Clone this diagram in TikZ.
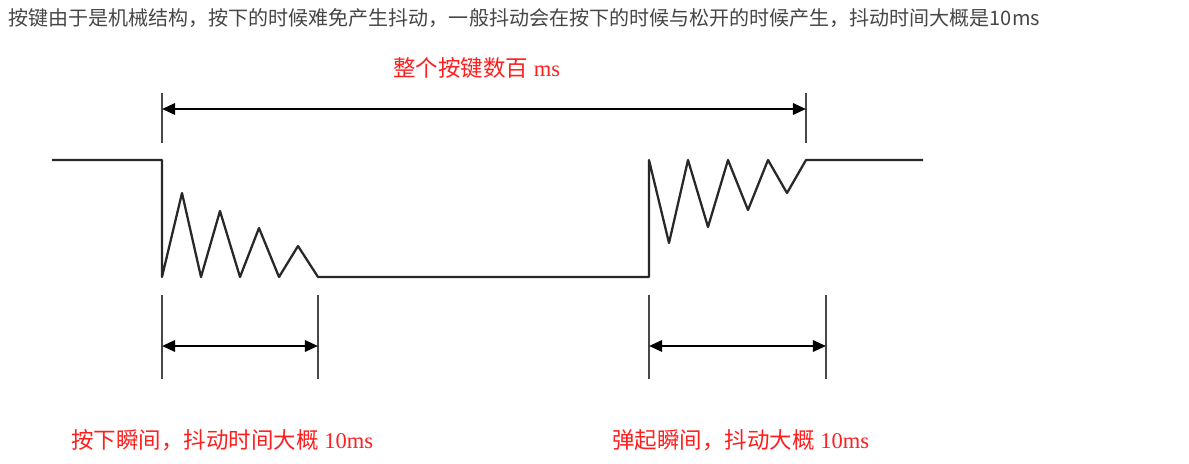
\documentclass[tikz,border=0pt]{standalone}
\usepackage{fontspec}
\setmainfont{Liberation Serif}
\newfontfamily\cjk{Noto Sans CJK SC}
\usetikzlibrary{arrows.meta}
\definecolor{wavegray}{RGB}{40, 40, 40}
\definecolor{notered}{RGB}{255, 30, 30}
\definecolor{headgray}{RGB}{70, 70, 70}

\tikzset{
  wave/.style={draw=wavegray, line width=1.3pt, line join=round},
  tickline/.style={draw=wavegray!85, line width=1.3pt},
  dimarrow/.style={draw=black, line width=1.3pt, {Triangle[length=7.5pt,width=6.5pt]}-{Triangle[length=7.5pt,width=6.5pt]}},
  redlabel/.style={text=notered, font=\fontsize{12.8}{15}\selectfont, inner sep=0pt, anchor=west},
}

\begin{document}
\begin{tikzpicture}[x=0.02cm, y=-0.02cm]
  \useasboundingbox (0,0) rectangle (1189,463);

  % Heading line
  \node[anchor=west, inner sep=0pt, text=headgray, font=\cjk\fontsize{11.4}{13}\selectfont] (header) at (8,18)
    {按键由于是机械结构，按下的时候难免产生抖动，一般抖动会在按下的时候与松开的时候产生，抖动时间大概是10ms};

  % Whole key press
  \node[redlabel] (total) at (393,68) {{\cjk 整个按键数百} ms};
  \draw[tickline] (162,93) -- (162,143);
  \draw[tickline] (806,93) -- (806,143);
  \coordinate (totalL) at (162,109);
  \coordinate (totalR) at (806,109);
  \draw[dimarrow] (totalL) -- (totalR);

  % Waveform
  \draw[wave] (52,160) -- (162,160) -- (162,277)
    -- (182,193) -- (201,277) -- (220,211) -- (240,277)
    -- (259,228) -- (279,277) -- (298,246) -- (318,277)
    -- (649,277) -- (649,160)
    -- (669,243) -- (688,160) -- (708,227) -- (728,160)
    -- (748,210) -- (768,160) -- (787,193) -- (806,160)
    -- (923,160);

  % Press bounce
  \draw[tickline] (162,295) -- (162,379);
  \draw[tickline] (318,295) -- (318,379);
  \coordinate (pressL) at (162,346);
  \coordinate (pressR) at (318,346);
  \draw[dimarrow] (pressL) -- (pressR);
  \node[redlabel] (pressnote) at (71,440) {{\cjk 按下瞬间，抖动时间大概} 10ms};

  % Release bounce
  \draw[tickline] (649,295) -- (649,379);
  \draw[tickline] (826,295) -- (826,379);
  \coordinate (releaseL) at (649,346);
  \coordinate (releaseR) at (826,346);
  \draw[dimarrow] (releaseL) -- (releaseR);
  \node[redlabel] (releasenote) at (612,440) {{\cjk 弹起瞬间，抖动大概} 10ms};
\end{tikzpicture}
\end{document}
